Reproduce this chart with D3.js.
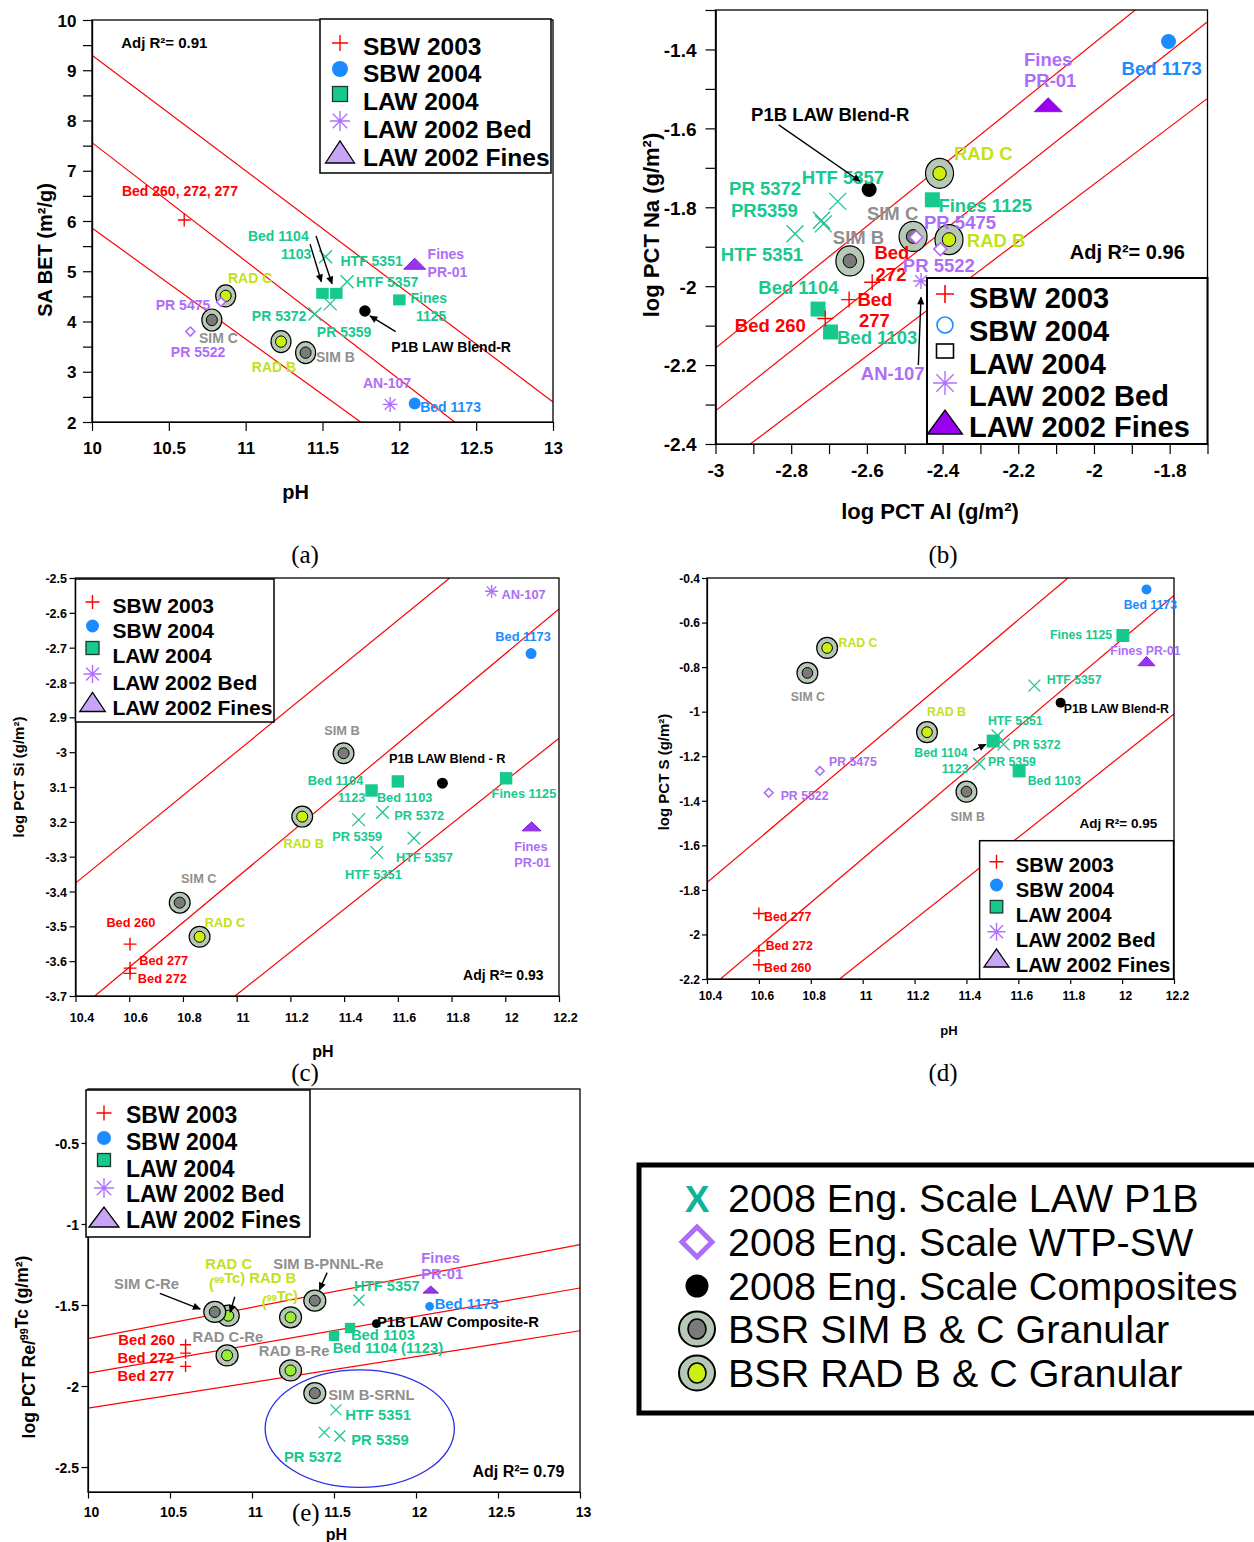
<!DOCTYPE html>
<html><head><meta charset="utf-8">
<script src="https://cdn.jsdelivr.net/npm/d3@7"></script>
<style>body{margin:0;background:#fff} svg{display:block}</style>
</head><body><svg id="c" width="1254" height="1542"></svg>
<script>
// ---------------- DATA ----------------
const legendNames = ["SBW 2003","SBW 2004","LAW 2004","LAW 2002 Bed","LAW 2002 Fines"];
const legendKeys  = ["sbw03","sbw04","law04","law02bed","law02fines"];
const bigLegendNames = ["2008 Eng. Scale LAW P1B","2008 Eng. Scale WTP-SW","2008 Eng. Scale Composites","BSR SIM B & C Granular","BSR RAD B & C Granular"];
const bigLegendKeys = ["p1b","wtpsw","comp","sim","rad"];

// panel (a): pH vs SA BET
const aPoints = [
 ["sbw03",10.6,6.02],["sbw04",12.1,2.37],
 ["law04",11.5,4.56],["law04",11.59,4.56],["law04",12.0,4.43],
 ["law02bed",11.94,2.35],["law02fines",12.1,5.15],
 ["p1b",11.52,5.29],["p1b",11.66,4.79],["p1b",11.55,4.35],["p1b",11.45,4.15],
 ["comp",11.776,4.21],
 ["rad",10.87,4.51],["rad",11.23,3.60],
 ["sim",10.78,4.03],["sim",11.39,3.38],
 ["wtpsw",10.84,4.39],["wtpsw",10.64,3.80]
];
const aLines = [[10,9.30,13,2.40],[10,7.56,12.36,2.0],[10,5.86,11.748,2.0]];
const aXTicks = [10,10.5,11,11.5,12,12.5,13];
const aXLabels = ["10","10.5","11","11.5","12","12.5","13"];
const aYTicks = [2,3,4,5,6,7,8,9,10];
const aYLabels = ["2","3","4","5","6","7","8","9","10"];
const aYMinor = [2.5,3.5,4.5,5.5,6.5,7.5,8.5,9.5];
const aLabels = [
 ["Adj R²= 0.91",10.19,9.44,"k",15],
 ["Bed 260, 272, 277",10.195,6.5,"r"],["Bed 1104",11.015,5.6,"g"],["1103",11.23,5.24,"g"],
 ["HTF 5351",11.617,5.10,"g"],["Fines",12.184,5.24,"p"],["PR-01",12.184,4.89,"p"],
 ["HTF 5357",11.718,4.69,"g"],["Fines",12.073,4.37,"g"],["1125",12.108,4.01,"g"],
 ["RAD C",10.885,4.77,"y"],["PR 5475",10.415,4.23,"p"],["PR 5372",11.04,4.01,"g"],
 ["PR 5359",11.463,3.69,"g"],["SIM C",10.696,3.57,"s"],["PR 5522",10.513,3.29,"p"],
 ["P1B LAW Blend-R",11.947,3.39,"k"],["SIM B",11.458,3.19,"s"],["RAD B",11.04,2.99,"y"],
 ["AN-107",11.763,2.68,"p"],["Bed 1173",12.136,2.2,"b"]
];
const aArrows = [[11.419,5.54,11.493,4.79],[11.458,5.70,11.562,4.75],[11.976,3.80,11.809,4.11]];

// panel (b): log PCT Al vs log PCT Na
const bPoints = [
 ["law04",-2.729,-2.058],["law04",-2.696,-2.116],["law04",-2.427,-1.781],
 ["sbw03",-2.71,-2.082],["sbw03",-2.586,-1.99],["sbw03",-2.647,-2.034],
 ["sbw04",-1.803,-1.38],
 ["law02bed",-2.457,-1.987],["law02fines",-2.121,-1.54],
 ["p1b",-2.677,-1.785],["p1b",-2.72,-1.833],["p1b",-2.715,-1.842],["p1b",-2.79,-1.867],
 ["comp",-2.594,-1.755],
 ["rad",-2.408,-1.714],["rad",-2.383,-1.882],
 ["sim",-2.478,-1.874],["sim",-2.645,-1.936],
 ["wtpsw",-2.47,-1.876],["wtpsw",-2.406,-1.906]
];
const bLines = [[-3,-2.157,-1.891,-1.30],[-3,-2.316,-1.7,-1.33],[-2.908,-2.40,-1.7,-1.524]];
const bXTicks = [-3,-2.8,-2.6,-2.4,-2.2,-2,-1.8];
const bXLabels = ["-3","-2.8","-2.6","-2.4","-2.2","-2","-1.8"];
const bXMinor = [-2.9,-2.7,-2.5,-2.3,-2.1,-1.9,-1.7];
const bYTicks = [-2.4,-2.2,-2,-1.8,-1.6,-1.4];
const bYLabels = ["-2.4","-2.2","-2","-1.8","-1.6","-1.4"];
const bYMinor = [-2.3,-2.1,-1.9,-1.7,-1.5,-1.3];
const bLabels = [
 ["Fines",-2.185,-1.443,"p"],["PR-01",-2.185,-1.496,"p"],["Bed 1173",-1.927,-1.466,"b"],
 ["P1B LAW Blend-R",-2.906,-1.582,"k"],["RAD C",-2.370,-1.681,"y"],["HTF 5357",-2.772,-1.741,"g"],
 ["PR 5372",-2.964,-1.768,"g"],["PR5359",-2.959,-1.824,"g"],["Fines 1125",-2.411,-1.812,"g"],
 ["SIM C",-2.600,-1.833,"s"],["PR 5475",-2.449,-1.855,"p"],["SIM B",-2.690,-1.893,"s"],
 ["RAD B",-2.336,-1.901,"y"],["HTF 5351",-2.986,-1.936,"g"],["Bed",-2.580,-1.931,"r"],
 ["272",-2.577,-1.987,"r"],["PR 5522",-2.505,-1.964,"p"],["Bed 1104",-2.887,-2.020,"g"],
 ["Bed",-2.625,-2.050,"r"],["277",-2.621,-2.104,"r"],["Bed 260",-2.949,-2.117,"r"],
 ["Bed 1103",-2.679,-2.146,"g"],["AN-107",-2.616,-2.239,"p"],
 ["Adj R²= 0.96",-2.064,-1.931,"k",20]
];
const bArrows = [[-2.833,-1.591,-2.618,-1.734],[-2.464,-2.2,-2.457,-2.028]];

// panel (c): pH vs log PCT Si
const cPoints = [
 ["sbw03",10.603,-3.551],["sbw03",10.603,-3.62],["sbw03",10.603,-3.635],
 ["sbw04",12.096,-2.717],
 ["law04",11.502,-3.110],["law04",11.60,-3.084],["law04",12.003,-3.075],
 ["law02bed",11.949,-2.538],["law02fines",12.098,-3.213],
 ["p1b",11.454,-3.194],["p1b",11.543,-3.173],["p1b",11.66,-3.247],["p1b",11.522,-3.288],
 ["comp",11.766,-3.089],
 ["rad",11.244,-3.185],["rad",10.862,-3.53],
 ["sim",11.398,-3.003],["sim",10.788,-3.432]
];
const cLines = [[10.4,-3.376,11.793,-2.5],[10.472,-3.7,12.2,-2.589],[10.994,-3.7,12.2,-2.96]];
const cXTicks = [10.4,10.6,10.8,11,11.2,11.4,11.6,11.8,12,12.2];
const cXLabels = ["10.4","10.6","10.8","11","11.2","11.4","11.6","11.8","12","12.2"];
const cYTicks = [-2.5,-2.6,-2.7,-2.8,-2.9,-3,-3.1,-3.2,-3.3,-3.4,-3.5,-3.6,-3.7];
const cYLabels = ["-2.5","-2.6","-2.7","-2.8","2.9","-3","3.1","3.2","-3.3","-3.4","-3.5","-3.6","-3.7"];
const cLabels = [
 ["AN-107",11.986,-2.560,"p"],["Bed 1173",11.963,-2.682,"b"],["SIM B",11.326,-2.952,"s"],
 ["P1B LAW Blend - R",11.567,-3.032,"k"],["Bed 1104",11.265,-3.094,"g"],["1123",11.376,-3.144,"g"],
 ["Bed 1103",11.522,-3.142,"g"],["Fines 1125",11.949,-3.132,"g"],["PR 5372",11.587,-3.196,"g"],
 ["PR 5359",11.356,-3.254,"g"],["RAD B",11.174,-3.274,"y"],["Fines",12.033,-3.285,"p"],
 ["PR-01",12.033,-3.331,"p"],["HTF 5357",11.593,-3.316,"g"],["HTF 5351",11.403,-3.365,"g"],
 ["SIM C",10.793,-3.376,"s"],["Bed 260",10.515,-3.501,"r"],["RAD C",10.881,-3.501,"y"],
 ["Bed 277",10.637,-3.611,"r"],["Bed 272",10.632,-3.662,"r"],
 ["Adj R²= 0.93",11.843,-3.654,"k",14]
];

// panel (d): pH vs log PCT S
const dPoints = [
 ["sbw03",10.6,-1.906],["sbw03",10.6,-2.073],["sbw03",10.6,-2.136],
 ["sbw04",12.094,-0.452],
 ["law04",12.003,-0.658],["law04",11.503,-1.132],["law04",11.603,-1.266],
 ["law02fines",12.094,-0.773],
 ["p1b",11.662,-0.883],["p1b",11.52,-1.107],["p1b",11.543,-1.147],["p1b",11.449,-1.234],
 ["comp",11.763,-0.96],
 ["rad",10.863,-0.714],["rad",11.248,-1.092],
 ["sim",10.787,-0.826],["sim",11.4,-1.359],
 ["wtpsw",10.835,-1.266],["wtpsw",10.638,-1.364]
];
const dLines = [[10.4,-1.767,11.791,-0.4],[10.452,-2.2,12.2,-0.478],[10.911,-2.2,12.2,-1.01]];
const dXTicks = [10.4,10.6,10.8,11,11.2,11.4,11.6,11.8,12,12.2];
const dXLabels = ["10.4","10.6","10.8","11","11.2","11.4","11.6","11.8","12","12.2"];
const dYTicks = [-0.4,-0.6,-0.8,-1,-1.2,-1.4,-1.6,-1.8,-2,-2.2];
const dYLabels = ["-0.4","-0.6","-0.8","-1","-1.2","-1.4","-1.6","-1.8","-2","-2.2"];
const dLabels = [
 ["Bed 1173",12.006,-0.537,"b"],["Fines 1125",11.722,-0.673,"g"],["Fines PR-01",11.954,-0.747,"p"],
 ["RAD C",10.907,-0.711,"y"],["HTF 5357",11.710,-0.875,"g"],["SIM C",10.723,-0.953,"s"],
 ["P1B LAW Blend-R",11.775,-1.008,"k"],["RAD B",11.248,-1.02,"y"],["HTF 5351",11.483,-1.06,"g"],
 ["PR 5372",11.578,-1.169,"g"],["Bed 1104",11.199,-1.204,"g"],["PR 5475",10.87,-1.244,"p"],
 ["PR 5359",11.483,-1.244,"g"],["1123",11.305,-1.274,"g"],["Bed 1103",11.636,-1.329,"g"],
 ["PR 5522",10.684,-1.398,"p"],["SIM B",11.339,-1.49,"s"],["Adj R²= 0.95",11.836,-1.52,"k",13.5],
 ["Bed 277",10.62,-1.939,"r"],["Bed 272",10.626,-2.069,"r"],["Bed 260",10.62,-2.167,"r"]
];
const dArrows = [[11.427,-1.174,11.475,-1.147]];

// panel (e): pH vs log PCT Re/99Tc
const ePoints = [
 ["sbw03",10.595,-1.745],["sbw03",10.595,-1.797],["sbw03",10.595,-1.879],
 ["sbw04",12.083,-1.508],
 ["law04",11.598,-1.642],["law04",11.5,-1.69],
 ["law02fines",12.09,-1.405],
 ["p1b",11.652,-1.471],["p1b",11.512,-2.147],["p1b",11.441,-2.286],["p1b",11.535,-2.308],
 ["comp",11.758,-1.615],
 ["rad",10.855,-1.566],["rad",11.235,-1.576],["rad",10.848,-1.811],["rad",11.235,-1.904],
 ["sim",10.773,-1.543],["sim",11.383,-1.473],["sim",11.383,-2.044]
];
const eLines = [[10,-1.708,13,-1.127],[10,-1.921,13,-1.395],[10,-2.137,13,-1.659]];
const eXTicks = [10,10.5,11,11.5,12,12.5,13];
const eXLabels = ["10","10.5","11","11.5","12","12.5","13"];
const eYTicks = [-0.5,-1,-1.5,-2,-2.5];
const eYLabels = ["-0.5","-1","-1.5","-2","-2.5"];
const eLabels = [
 ["RAD C",10.715,-1.277,"y"],["SIM B-PNNL-Re",11.13,-1.277,"s"],["Fines",12.032,-1.238,"p"],
 ["PR-01",12.032,-1.339,"p"],["SIM C-Re",10.159,-1.403,"s"],["(^{99}Tc) RAD B",10.738,-1.400,"y"],
 ["HTF 5357",11.622,-1.413,"g"],["(^{99}Tc)",11.059,-1.51,"y"],["Bed 1173",12.114,-1.525,"b"],
 ["P1B LAW Composite-R",11.762,-1.634,"k"],["Bed 1103",11.603,-1.716,"g"],["Bed 260",10.185,-1.747,"r"],
 ["RAD C-Re",10.637,-1.727,"s"],["Bed 1104 (1123)",11.493,-1.799,"g"],["RAD B-Re",11.041,-1.815,"s"],
 ["Bed 272",10.18,-1.857,"r"],["Bed 277",10.18,-1.968,"r"],["SIM B-SRNL",11.465,-2.088,"s"],
 ["HTF 5351",11.568,-2.211,"g"],["PR 5359",11.605,-2.362,"g"],["PR 5372",11.195,-2.469,"g"],
 ["Adj R²= 0.79",12.344,-2.562,"k",16]
];
const eArrows = [[10.438,-1.428,10.684,-1.525],[10.895,-1.449,10.867,-1.545],[11.458,-1.30,11.411,-1.407]];
const eEllipse = [11.657,-2.263,0.577,0.363];

// ---------------- STYLE ----------------
const FONT = '"Liberation Sans", Arial, Helvetica, sans-serif';
const SERIF = '"Liberation Serif", "Times New Roman", serif';
const RED="#ff0000", BLUE="#1a8cff", GREEN="#16c98d", XTEAL="#1bc294", PURPLE="#ad6ef7",
      YG="#c3e11a", GRAY="#8f8f8f", RING="#b6c8b6", SIMIN="#7a7a7a", RADIN="#ccee11", RADIN_E="#99ee33";
const TXT = {r:RED,b:BLUE,g:GREEN,p:PURPLE,y:YG,s:GRAY,k:"#000"};

const svg = d3.select("#c");
svg.append("rect").attr("width",1254).attr("height",1542).attr("fill","#fff");
const defs = svg.append("defs");
defs.append("marker").attr("id","arr").attr("viewBox","0 0 10 10").attr("refX",9).attr("refY",5)
  .attr("markerWidth",9).attr("markerHeight",8).attr("markerUnits","userSpaceOnUse").attr("orient","auto")
  .append("path").attr("d","M0,0.5 L10,5 L0,9.5 z").attr("fill","#000");

function rich(t, str, fs){
  const parts = str.split(/(\^\{[^}]*\})/);
  parts.forEach(p=>{
    if(!p) return;
    if(p.startsWith("^{")){
      t.append("tspan").attr("dy",-fs*0.4).attr("font-size",fs*0.62).text(p.slice(2,-1));
      t.append("tspan").attr("dy",fs*0.4).text("");
    } else t.append("tspan").text(p);
  });
  return t;
}

function drawSym(g, key, cx, cy, S, opt={}){
  if(key==="sbw03"){
    g.append("path").attr("d",`M${cx-S.p},${cy}H${cx+S.p}M${cx},${cy-S.p}V${cy+S.p}`)
     .attr("stroke",RED).attr("stroke-width",opt.sw||1.4).attr("fill","none");
  } else if(key==="sbw04"){
    const c=g.append("circle").attr("cx",cx).attr("cy",cy).attr("r",S.c);
    if(opt.hollow) c.attr("fill","#fff").attr("stroke",BLUE).attr("stroke-width",1.6);
    else c.attr("fill",BLUE);
  } else if(key==="law04"){
    const w=S.q, h=S.qh||S.q;
    const r=g.append("rect").attr("x",cx-w/2).attr("y",cy-h/2).attr("width",w).attr("height",h);
    if(opt.hollow) r.attr("fill","#fff").attr("stroke","#000").attr("stroke-width",1.6);
    else { r.attr("fill",GREEN); if(opt.outline) r.attr("stroke","#1d3a2e").attr("stroke-width",1.3); }
  } else if(key==="law02bed"){
    const a=S.a, d=a*0.72;
    g.append("path").attr("d",`M${cx-a},${cy}H${cx+a}M${cx},${cy-a}V${cy+a}M${cx-d},${cy-d}L${cx+d},${cy+d}M${cx-d},${cy+d}L${cx+d},${cy-d}`)
     .attr("stroke","#b070ff").attr("stroke-width",1.4).attr("fill","none");
  } else if(key==="law02fines"){
    const w=S.tw, h=S.th;
    g.append("path").attr("d",`M${cx-w/2},${cy+h/2}L${cx},${cy-h/2}L${cx+w/2},${cy+h/2}Z`)
     .attr("fill",opt.tri||S.tf).attr("stroke",opt.triStroke||"#7a22d6").attr("stroke-width",opt.triSw||1);
  } else if(key==="p1b"){
    const a=S.x;
    g.append("path").attr("d",`M${cx-a},${cy-a}L${cx+a},${cy+a}M${cx-a},${cy+a}L${cx+a},${cy-a}`)
     .attr("stroke",XTEAL).attr("stroke-width",1.3).attr("fill","none");
  } else if(key==="wtpsw"){
    const a=S.d;
    g.append("path").attr("d",`M${cx},${cy-a}L${cx+a},${cy}L${cx},${cy+a}L${cx-a},${cy}Z`)
     .attr("fill","#fff").attr("stroke",PURPLE).attr("stroke-width",opt.dsw||1.6);
  } else if(key==="comp"){
    g.append("circle").attr("cx",cx).attr("cy",cy).attr("r",S.k).attr("fill","#000");
  } else if(key==="sim"||key==="rad"){
    g.append("ellipse").attr("cx",cx).attr("cy",cy).attr("rx",S.o[0]).attr("ry",S.o[1])
     .attr("fill",RING).attr("stroke","#000").attr("stroke-width",opt.osw||1.2);
    g.append("ellipse").attr("cx",cx).attr("cy",cy).attr("rx",S.i[0]).attr("ry",S.i[1])
     .attr("fill",key==="sim"?SIMIN:(S.radin||RADIN)).attr("stroke","#000").attr("stroke-width",opt.isw||1);
  }
}

function styleAxis(sel, fs){
  sel.attr("font-family",null).attr("font-size",null);
  sel.selectAll("text").attr("font-family",FONT).attr("font-size",fs).attr("font-weight","bold").attr("fill","#000");
  sel.selectAll("line").attr("stroke","#000").attr("stroke-width",1.2);
  sel.select(".domain").attr("stroke","#000").attr("stroke-width",1.2);
}

const drawOrder = ["law04","sbw03","p1b","law02bed","law02fines","sbw04","comp","rad","sim","wtpsw"];

function panel(P){
  const g = svg.append("g");
  const x = d3.scaleLinear().domain(P.xd).range([P.x0,P.x1]);
  const y = d3.scaleLinear().domain(P.yd).range([P.y1,P.y0]);
  const cid = "clip"+P.id;
  defs.append("clipPath").attr("id",cid).append("rect")
    .attr("x",P.x0).attr("y",P.y0).attr("width",P.x1-P.x0).attr("height",P.y1-P.y0);
  g.append("g").attr("clip-path",`url(#${cid})`).selectAll("line").data(P.lines).join("line")
    .attr("x1",d=>x(d[0])).attr("y1",d=>y(d[1])).attr("x2",d=>x(d[2])).attr("y2",d=>y(d[3]))
    .attr("stroke",RED).attr("stroke-width",1.2);
  g.append("rect").attr("x",P.x0).attr("y",P.y0).attr("width",P.x1-P.x0).attr("height",P.y1-P.y0)
    .attr("fill","none").attr("stroke","#000").attr("stroke-width",1.3);
  const xa = g.append("g").attr("transform",`translate(0,${P.y1})`)
    .call(d3.axisBottom(x).tickValues(P.xt).tickFormat((d,i)=>P.xtl[i]).tickSize(P.tick).tickSizeOuter(0));
  styleAxis(xa, P.tfs);
  xa.selectAll("text").attr("dy",null).attr("y",P.xlb).attr("dx",P.xdx||0);
  if(P.xm){
    const xm = g.append("g").attr("transform",`translate(0,${P.y1})`)
      .call(d3.axisBottom(x).tickValues(P.xm).tickFormat("").tickSize(P.tick).tickSizeOuter(0));
    styleAxis(xm,P.tfs);
  }
  const ya = g.append("g").attr("transform",`translate(${P.x0},0)`)
    .call(d3.axisLeft(y).tickValues(P.yt).tickFormat((d,i)=>P.ytl[i]).tickSize(P.tick).tickSizeOuter(0));
  styleAxis(ya, P.tfs);
  ya.selectAll("text").attr("dy",(P.tfs*0.36)+"px").attr("x",-P.ylr);
  if(P.ym){
    const ym = g.append("g").attr("transform",`translate(${P.x0},0)`)
      .call(d3.axisLeft(y).tickValues(P.ym).tickFormat("").tickSize(P.tick).tickSizeOuter(0));
    styleAxis(ym,P.tfs);
  }
  if(P.ellipse){
    const e=P.ellipse;
    g.append("ellipse").attr("cx",x(e[0])).attr("cy",y(e[1]))
      .attr("rx",x(e[0]+e[2])-x(e[0])).attr("ry",y(e[1]-e[3])-y(e[1]))
      .attr("fill","none").attr("stroke","#2a2ae6").attr("stroke-width",1.3);
  }
  const pg = g.append("g");
  drawOrder.forEach(k=>{
    P.points.filter(p=>p[0]===k).forEach(p=>drawSym(pg,k,x(p[1]),y(p[2]),P.S));
  });
  P.labels.forEach(l=>{
    const fs = l[4]||P.lfs;
    const t = g.append("text").attr("x",x(l[1])).attr("y",y(l[2]))
      .attr("font-family",FONT).attr("font-weight","bold").attr("font-size",fs).attr("fill",TXT[l[3]]);
    rich(t,l[0],fs);
  });
  (P.arrows||[]).forEach(a=>{
    g.append("line").attr("x1",x(a[0])).attr("y1",y(a[1])).attr("x2",x(a[2])).attr("y2",y(a[3]))
      .attr("stroke","#000").attr("stroke-width",1.4).attr("marker-end","url(#arr)");
  });
  const L = P.legend;
  const lg = g.append("g");
  lg.append("rect").attr("x",L.box[0]).attr("y",L.box[1]).attr("width",L.box[2]-L.box[0]).attr("height",L.box[3]-L.box[1])
    .attr("fill","#fff").attr("stroke","#000").attr("stroke-width",L.bsw||1.5);
  legendKeys.forEach((k,i)=>{
    drawSym(lg,k,L.sx,L.sy[i],L.S,L.opt(k));
    lg.append("text").attr("x",L.tx).attr("y",L.ty[i]).attr("font-family",FONT).attr("font-weight","bold")
      .attr("font-size",L.fs).attr("fill","#000").text(legendNames[i]);
  });
  const xt = g.append("text").attr("x",P.xtitle[1]).attr("y",P.xtitle[2]).attr("text-anchor","middle")
    .attr("font-family",FONT).attr("font-weight","bold").attr("font-size",P.xtitle[3]);
  rich(xt,P.xtitle[0],P.xtitle[3]);
  const yt = g.append("text").attr("transform",`translate(${P.ytitle[1]},${P.ytitle[2]}) rotate(-90)`)
    .attr("text-anchor","middle").attr("font-family",FONT).attr("font-weight","bold").attr("font-size",P.ytitle[3]);
  rich(yt,P.ytitle[0],P.ytitle[3]);
  svg.append("text").attr("x",P.tag[1]).attr("y",P.tag[2]).attr("text-anchor","middle")
    .attr("font-family",SERIF).attr("font-size",25).text(P.tag[0]);
}

const lightOpt = k => ({outline:true, tri:"#c8a4f6", triStroke:"#000", triSw:1.3});

panel({id:"a", x0:92,x1:553,y0:20,y1:422, xd:[10,13], yd:[2,10],
  xt:aXTicks, xtl:aXLabels, yt:aYTicks, ytl:aYLabels, ym:aYMinor,
  tick:9, tfs:17, xlb:32, ylr:15.5, lfs:14,
  S:{p:6.4,c:6,q:12.5,qh:11,a:7.5,tw:22,th:11,tf:"#9933ee",x:6.5,d:4.5,k:5.7,o:[10,11],i:[5.5,5.7]},
  lines:aLines, points:aPoints, labels:aLabels, arrows:aArrows,
  legend:{box:[320,19,551,173], sx:340, sy:[43,69,94,121,152], tx:363, ty:[55,82,110,138,166], fs:24.5,
    S:{p:8,c:8,q:15,a:10,tw:29,th:22}, opt:lightOpt},
  xtitle:["pH",295.6,499,20], ytitle:["SA BET (m²/g)",52,250,20], tag:["(a)",305,563]});

panel({id:"b", x0:715.5,x1:1207.5,y0:10,y1:444, xd:[-3,-1.7], yd:[-2.4,-1.3],
  xt:bXTicks, xtl:bXLabels, xm:bXMinor, yt:bYTicks, ytl:bYLabels, ym:bYMinor,
  tick:10, tfs:19, xlb:33, ylr:19, lfs:18.5,
  S:{p:8,c:7.5,q:15,a:8,tw:28,th:14,tf:"#9900ee",x:8.5,d:6.5,k:7.5,o:[14,15],i:[6.7,6.9]},
  lines:bLines, points:bPoints, labels:bLabels, arrows:bArrows,
  legend:{box:[927,278,1207.5,444], sx:945, sy:[294,325,351,383,422], tx:969, ty:[308,341,373.5,405.8,437], fs:29, bsw:2,
    S:{p:9,c:8,q:17,qh:14,a:12,tw:35,th:24}, opt:k=>({hollow:true, tri:"#9900ee", triStroke:"#000", triSw:1.3, sw:1.6})},
  xtitle:["log PCT Al (g/m²)",930,519,22], ytitle:["log PCT Na (g/m²)",658.5,225,22], tag:["(b)",943,563]});

panel({id:"c", x0:75.5,x1:559,y0:578,y1:996, xd:[10.4,12.2], yd:[-3.7,-2.5],
  xt:cXTicks, xtl:cXLabels, yt:cYTicks, ytl:cYLabels,
  tick:6, tfs:12.5, xlb:25.7, ylr:8.5, xdx:6, lfs:12.8,
  S:{p:6.4,c:5.5,q:12.4,a:6.5,tw:19,th:9,tf:"#9933ee",x:6.4,d:4.5,k:5.5,o:[10.4,10.4],i:[5.5,5.5]},
  lines:cLines, points:cPoints, labels:cLabels, arrows:[],
  legend:{box:[75.5,579,274,722], sx:92.5, sy:[602,626,648,674,702], tx:112.5, ty:[613,638,663,690,715], fs:21,
    S:{p:7,c:6.5,q:13,a:9,tw:25.5,th:19}, opt:lightOpt},
  xtitle:["pH",323,1057,16], ytitle:["log PCT Si (g/m²)",23.5,777,15], tag:["(c)",305,1081]});

panel({id:"d", x0:707,x1:1174,y0:578,y1:979, xd:[10.4,12.2], yd:[-2.2,-0.4],
  xt:dXTicks, xtl:dXLabels, yt:dYTicks, ytl:dYLabels,
  tick:5, tfs:12, xlb:21, ylr:7, xdx:3, lfs:12.3,
  S:{p:6,c:5,q:13,a:6,tw:17,th:9.3,tf:"#9933ee",x:6,d:4.3,k:5,o:[10.4,10.5],i:[5.3,5.4]},
  lines:dLines, points:dPoints, labels:dLabels, arrows:dArrows,
  legend:{box:[979.6,840.7,1173.6,979], sx:996.5, sy:[861.7,885,906.7,931.7,958], tx:1015.8, ty:[871.7,896.7,921.7,946.7,971.7], fs:20.3,
    S:{p:7,c:6.5,q:12.5,a:9,tw:25,th:18}, opt:lightOpt},
  xtitle:["pH",949,1035,13], ytitle:["log PCT S (g/m²)",669,772,15], tag:["(d)",943,1081]});

panel({id:"e", x0:88,x1:580,y0:1089,y1:1492, xd:[10,13], yd:[-2.654,-0.167],
  xt:eXTicks, xtl:eXLabels, yt:eYTicks, ytl:eYLabels,
  tick:6.5, tfs:14, xlb:24.7, ylr:9, xdx:3, lfs:14.8,
  S:{p:5.5,c:4.4,q:10.4,a:6,tw:15.4,th:7,tf:"#9933ee",x:5.5,d:4,k:4.4,o:[11,10.5],i:[5.5,5.5],radin:RADIN_E},
  lines:eLines, points:ePoints, labels:eLabels, arrows:eArrows, ellipse:eEllipse,
  legend:{box:[86,1090,310,1237], sx:104, sy:[1113,1138,1160,1188,1217], tx:126, ty:[1123,1150,1177,1202,1228], fs:23,
    S:{p:7.5,c:7,q:13,a:10,tw:30,th:20}, opt:lightOpt},
  xtitle:["pH",336.5,1540,16], ytitle:["log PCT Re/^{99}Tc (g/m²)",35,1347,17.5], tag:["(e)",305.8,1521]});

// ---------------- BIG LEGEND ----------------
const BL = svg.append("g");
BL.append("rect").attr("x",639).attr("y",1165).attr("width",640).attr("height",248)
  .attr("fill","#fff").attr("stroke","#000").attr("stroke-width",5);
const blY = [1212,1256,1300,1343,1387];
const blC = [1198,1242,1286,1329,1373];
bigLegendKeys.forEach((k,i)=>{
  if(k==="p1b"){
    BL.append("text").attr("x",697).attr("y",blY[i]).attr("text-anchor","middle").attr("font-family",FONT)
      .attr("font-weight","bold").attr("font-size",37).attr("fill","#10b39a").text("X");
  } else {
    drawSym(BL,k,697,blC[i],{d:15,k:11.5,o:[18,17.5],i:[9,10]},{dsw:5,osw:2,isw:1.6});
  }
  BL.append("text").attr("x",728).attr("y",blY[i]).attr("font-family",FONT).attr("font-size",39.5)
    .attr("fill","#000").text(bigLegendNames[i]);
});
</script></body></html>
